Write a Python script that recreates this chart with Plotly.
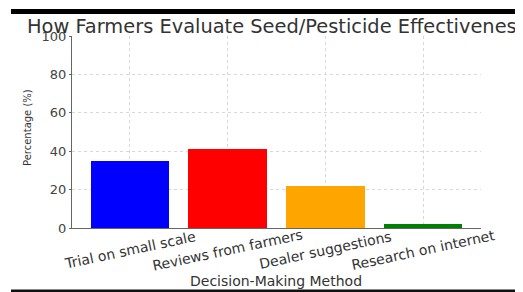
import plotly.graph_objects as go

categories = ["Trial on small scale", "Reviews from farmers", "Dealer suggestions", "Research on internet"]
values = [35, 41, 22, 2]
colors = ["#0000ff", "#ff0000", "#ffa500", "#008000"]
y_ticks = [0, 20, 40, 60, 80, 100]

# page is offset by the 8px body margin, so the figure is 8px smaller
OFF = 8
W, H = 523 - OFF, 292 - OFF
L, R, T, B = 72 - OFF, 42, 36 - OFF, 64
ph = H - T - B

def py(p):
    return (H - B - (p - OFF)) / ph

def px(p):
    return ((p - OFF) - L) / (W - L - R)

x_idx = list(range(len(categories)))

fig = go.Figure()
fig.add_trace(go.Bar(x=x_idx, y=values, marker=dict(color=colors, line=dict(width=0)),
                     width=0.8, showlegend=False))

font = "DejaVu Sans"
annotations = []
for i, c in enumerate(categories):
    annotations.append(dict(x=i, y=py(250), xref="x", yref="paper", text=c, showarrow=False,
                            textangle=-12, xanchor="center", yanchor="middle",
                            font=dict(family=font, size=14, color="#333")))
annotations.append(dict(x=px(27), y=py(128), xref="paper", yref="paper", text="Percentage (%)",
                        showarrow=False, textangle=-90, xanchor="center", yanchor="middle",
                        font=dict(family=font, size=10, color="#333")))
annotations.append(dict(x=px(276), y=py(281), xref="paper", yref="paper", text="Decision-Making Method",
                        showarrow=False, xanchor="center", yanchor="middle",
                        font=dict(family=font, size=14, color="#333")))

shapes = [
    dict(type="rect", xref="paper", yref="paper", x0=px(11), x1=px(540), y0=py(14), y1=py(9),
         fillcolor="black", line=dict(width=0), layer="above"),
    dict(type="rect", xref="paper", yref="paper", x0=px(11), x1=px(540), y0=py(292), y1=py(289.5),
         fillcolor="#111", line=dict(width=0), layer="above"),
]

fig.update_layout(
    width=W, height=H,
    margin=dict(l=L, r=R, t=T, b=B, pad=0),
    paper_bgcolor="white", plot_bgcolor="white",
    title=dict(text="How Farmers Evaluate Seed/Pesticide Effectiveness", x=(27 - OFF) / W, xanchor="left",
               y=1 - (26 - OFF) / H, yanchor="middle", font=dict(family=font, size=19.4, color="#333")),
    xaxis=dict(range=[-0.59, 3.59], tickvals=x_idx, showticklabels=False, showgrid=True,
               gridcolor="#d8d8d8", griddash="dot", gridwidth=1, showline=True, linecolor="#666",
               linewidth=1, ticks="", zeroline=False),
    yaxis=dict(range=[0, 100], tickvals=y_ticks, showgrid=True, gridcolor="#d8d8d8", griddash="dot",
               gridwidth=1, showline=True, linecolor="#666", linewidth=1, ticks="outside", ticklen=2,
               tickcolor="#666", zeroline=False, tickfont=dict(family=font, size=13, color="#444")),
    annotations=annotations,
    shapes=shapes,
    bargap=0,
)

fig.write_html("out.html")
